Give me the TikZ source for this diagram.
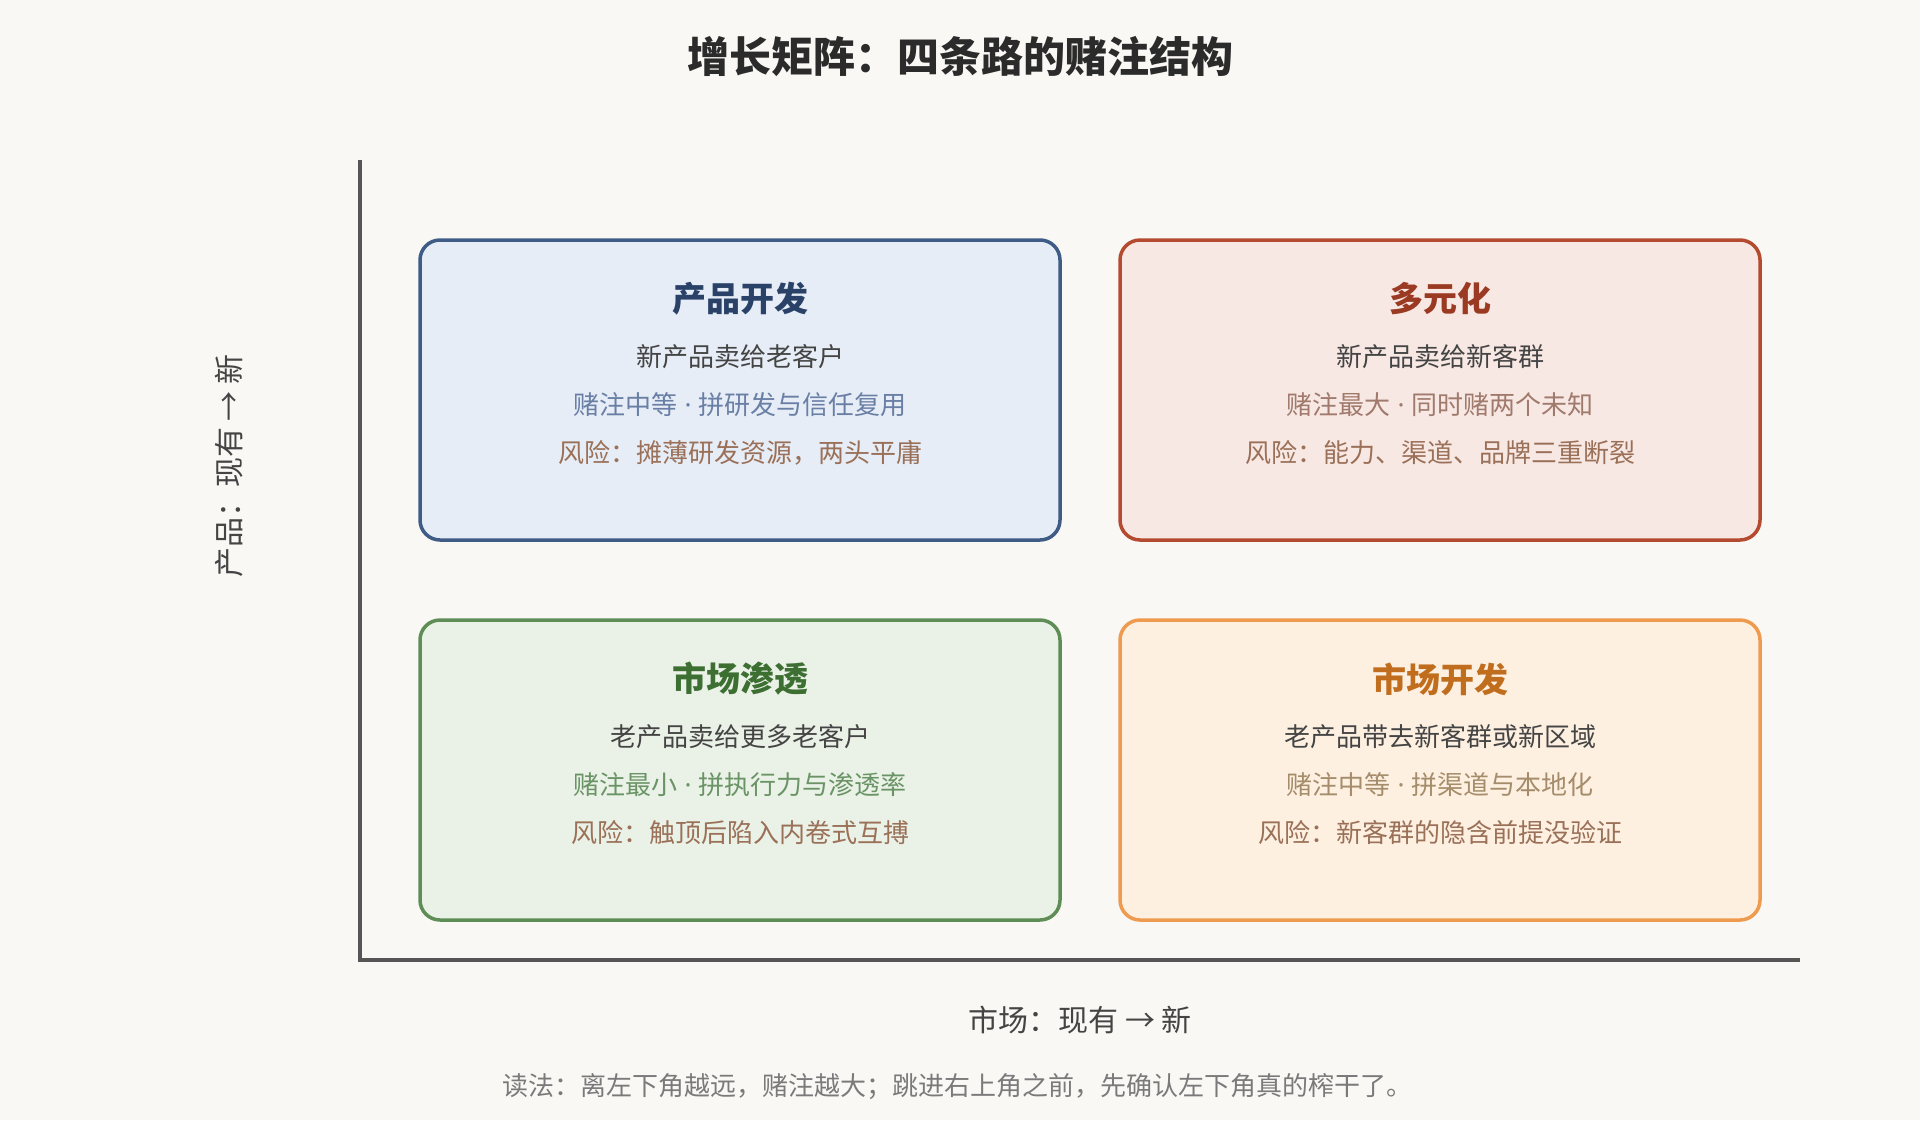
\documentclass[tikz,border=0pt]{standalone}
\usepackage{fontspec}
\setmainfont{Noto Sans CJK SC}
\newfontfamily\latin{Noto Sans}
\newcommand{\pointmedian}{{\latin\ ·\ }}
\usepackage{tikz}

\definecolor{fond}{HTML}{F9F8F5}
\definecolor{axe}{HTML}{555555}
\definecolor{encre}{HTML}{444444}
\definecolor{risque}{HTML}{9A7058}
\definecolor{bleuF}{HTML}{E6EDF6}\definecolor{bleuB}{HTML}{3E5C85}\definecolor{bleuT}{HTML}{2A4268}\definecolor{bleuS}{HTML}{6A7FA5}
\definecolor{rougeF}{HTML}{F8E8E4}\definecolor{rougeB}{HTML}{B44A30}\definecolor{rougeT}{HTML}{9B3A22}\definecolor{rougeS}{HTML}{A07A6C}
\definecolor{vertF}{HTML}{EAF1E6}\definecolor{vertB}{HTML}{5E8E56}\definecolor{vertT}{HTML}{3D6E32}\definecolor{vertS}{HTML}{6A9466}
\definecolor{orF}{HTML}{FDF0E1}\definecolor{orB}{HTML}{EE9A4F}\definecolor{orT}{HTML}{C06E1E}\definecolor{orS}{HTML}{A58C6A}

\tikzset{
  quadrant/.style={draw, line width=3.5pt, rounded corners=20pt, minimum width=640pt, minimum height=300pt, inner sep=0pt},
  qtitre/.style={font=\fontsize{34}{40}\selectfont\bfseries},
  qligne/.style={font=\fontsize{26}{30}\selectfont, text=encre},
  qrisque/.style={font=\fontsize{26}{30}\selectfont, text=risque},
  etiquette/.style={font=\fontsize{30}{36}\selectfont, text=encre}
}

\begin{document}
\begin{tikzpicture}[x=1pt,y=-1pt]
            %fond
            \fill[fond] (0,0) rectangle (1920,1120);
            \useasboundingbox (0,0) rectangle (1920,1120);

            %titre
            \node[font=\fontsize{42}{48}\selectfont\bfseries, text=black!83] (titre) at (960,57) {增长矩阵：四条路的赌注结构};

            %axes
            \coordinate (O) at (360,960);
            \coordinate (Ymax) at (360,160);
            \coordinate (Xmax) at (1800,960);
            \draw[axe, line width=4pt] (Ymax) -- (O) -- (Xmax);
            \node[etiquette, rotate=90] (ylab) at (229,466) {产品：现有 → 新};
            \node[etiquette] (xlab) at (1080,1020) {市场：现有 → 新};

            %Produit nouveau, marche existant
            \node[quadrant, draw=bleuB, fill=bleuF] (pd) at (740,390) {};
            \node[qtitre, text=bleuT] (pdT) at (740,299) {产品开发};
            \node[qligne] (pdA) at (740,357) {新产品卖给老客户};
            \node[qligne, text=bleuS] (pdB) at (740,405) {赌注中等\pointmedian 拼研发与信任复用};
            \node[qrisque] (pdC) at (740,453) {风险：摊薄研发资源，两头平庸};

            %Produit nouveau, marche nouveau
            \node[quadrant, draw=rougeB, fill=rougeF] (div) at (1440,390) {};
            \node[qtitre, text=rougeT] (divT) at (1440,299) {多元化};
            \node[qligne] (divA) at (1440,357) {新产品卖给新客群};
            \node[qligne, text=rougeS] (divB) at (1440,405) {赌注最大\pointmedian 同时赌两个未知};
            \node[qrisque] (divC) at (1440,453) {风险：能力、渠道、品牌三重断裂};

            %Produit existant, marche existant
            \node[quadrant, draw=vertB, fill=vertF] (mp) at (740,770) {};
            \node[qtitre, text=vertT] (mpT) at (740,679) {市场渗透};
            \node[qligne] (mpA) at (740,737) {老产品卖给更多老客户};
            \node[qligne, text=vertS] (mpB) at (740,785) {赌注最小\pointmedian 拼执行力与渗透率};
            \node[qrisque] (mpC) at (740,833) {风险：触顶后陷入内卷式互搏};

            %Produit existant, marche nouveau
            \node[quadrant, draw=orB, fill=orF] (md) at (1440,770) {};
            \node[qtitre, text=orT] (mdT) at (1440,679) {市场开发};
            \node[qligne] (mdA) at (1440,737) {老产品带去新客群或新区域};
            \node[qligne, text=orS] (mdB) at (1440,785) {赌注中等\pointmedian 拼渠道与本地化};
            \node[qrisque] (mdC) at (1440,833) {风险：新客群的隐含前提没验证};

            %lecture
            \node[font=\fontsize{26}{30}\selectfont, text=black!52] (note) at (957,1087) {读法：离左下角越远，赌注越大；跳进右上角之前，先确认左下角真的榨干了。};
        \end{tikzpicture}
\end{document}
